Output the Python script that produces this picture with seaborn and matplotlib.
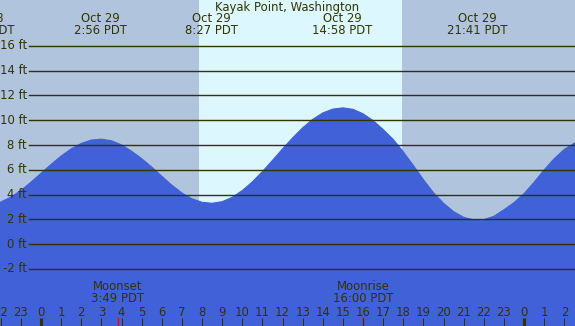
import numpy as np
import matplotlib
matplotlib.use("Agg")
import matplotlib.pyplot as plt
import matplotlib.transforms as mtransforms
import seaborn as sns

# tide heights (ft), read every half hour from 22:30 Oct 28 to 03:00 Oct 30
hours = np.arange(-2.5, 27.01, 0.5)
heights = [3.19, 3.40, 3.80, 4.34, 5.00, 5.72, 6.44, 7.11, 7.69, 8.13, 8.40,
           8.47, 8.34, 8.01, 7.50, 6.90, 6.22, 5.48, 4.76, 4.13, 3.66, 3.38,
           3.30, 3.43, 3.78, 4.33, 5.03, 5.86, 6.76, 7.69, 8.58, 9.39, 10.07,
           10.59, 10.90, 11.00, 10.88, 10.52, 9.97, 9.25, 8.45, 7.45, 6.35,
           5.20, 4.15, 3.30, 2.62, 2.17, 1.96, 1.98, 2.25, 2.78, 3.35, 4.08,
           5.00, 6.00, 6.90, 7.65, 8.15, 8.50]

# high / low tide labels
extreme_times = [-2.8, 2.933, 8.45, 14.967, 21.683]
extreme_dates = ["Oct 28", "Oct 29", "Oct 29", "Oct 29", "Oct 29"]
extreme_labels = ["21:12 PDT", "2:56 PDT", "8:27 PDT", "14:58 PDT", "21:41 PDT"]

# sun and moon
sunrise, sunset = 7.85, 17.93
moon_times = [3.817, 16.0]
moon_names = ["Moonset", "Moonrise"]
moon_labels = ["3:49 PDT", "16:00 PDT"]

ft_levels = [-2, 0, 2, 4, 6, 8, 10, 12, 14, 16]
hour_ticks = list(range(-2, 27))

night = "#b0c4de"
day = "#ddf7ff"
water = "#4161d8"
ink = "#333300"
fs = 8.4

fig = plt.figure(figsize=(5.75, 3.26), dpi=100)
ax = fig.add_axes([0, 0, 1, 1])
ax.set_xlim(-2.04, 26.53)
ax.set_ylim(-6.6, 19.7)
ax.axis("off")

ax.axvspan(-5, sunrise, color=night, lw=0, zorder=0)
ax.axvspan(sunrise, sunset, color=day, lw=0, zorder=0)
ax.axvspan(sunset, 30, color=night, lw=0, zorder=0)

ax.fill_between(hours, heights, -10, color=water, lw=0, zorder=1)
sns.lineplot(x=hours, y=heights, ax=ax, color=water, linewidth=0.8, zorder=1)

tx = mtransforms.blended_transform_factory(ax.transAxes, ax.transData)
for lv in ft_levels:
    ax.axhline(lv, xmin=29 / 575, xmax=1, color=ink, lw=1.0, zorder=2)
    ax.text(27 / 575, lv, f"{lv} ft", transform=tx, ha="right", va="center",
            fontsize=fs, color=ink, zorder=3)

ty = mtransforms.blended_transform_factory(ax.transData, ax.transAxes)
ax.text(0.5, 1 - 7 / 326, "Kayak Point, Washington", transform=ax.transAxes,
        ha="center", va="center", fontsize=fs, color=ink)
for t, d, lab in zip(extreme_times, extreme_dates, extreme_labels):
    ax.text(t, 1 - 19 / 326, d, transform=ty, ha="center", va="center",
            fontsize=fs, color=ink)
    ax.text(t, 1 - 31 / 326, lab, transform=ty, ha="center", va="center",
            fontsize=fs, color=ink)

for t, n, lab in zip(moon_times, moon_names, moon_labels):
    ax.text(t, 1 - 286 / 326, n, transform=ty, ha="center", va="center",
            fontsize=fs, color=ink)
    ax.text(t, 1 - 298 / 326, lab, transform=ty, ha="center", va="center",
            fontsize=fs, color=ink)
    ax.plot([t, t], [0, 8 / 326], transform=ty, color="red", lw=1, zorder=4)

for h in hour_ticks:
    ax.text(h, 1 - 312 / 326, str(h % 24), transform=ty, ha="center",
            va="center", fontsize=fs, color=ink)
    w = 3 if h % 24 == 0 else 1
    ax.plot([h, h], [0, 8 / 326], transform=ty, color=ink, lw=w * 0.75,
            solid_capstyle="butt", zorder=4)

fig.savefig("out.png", dpi=100)
